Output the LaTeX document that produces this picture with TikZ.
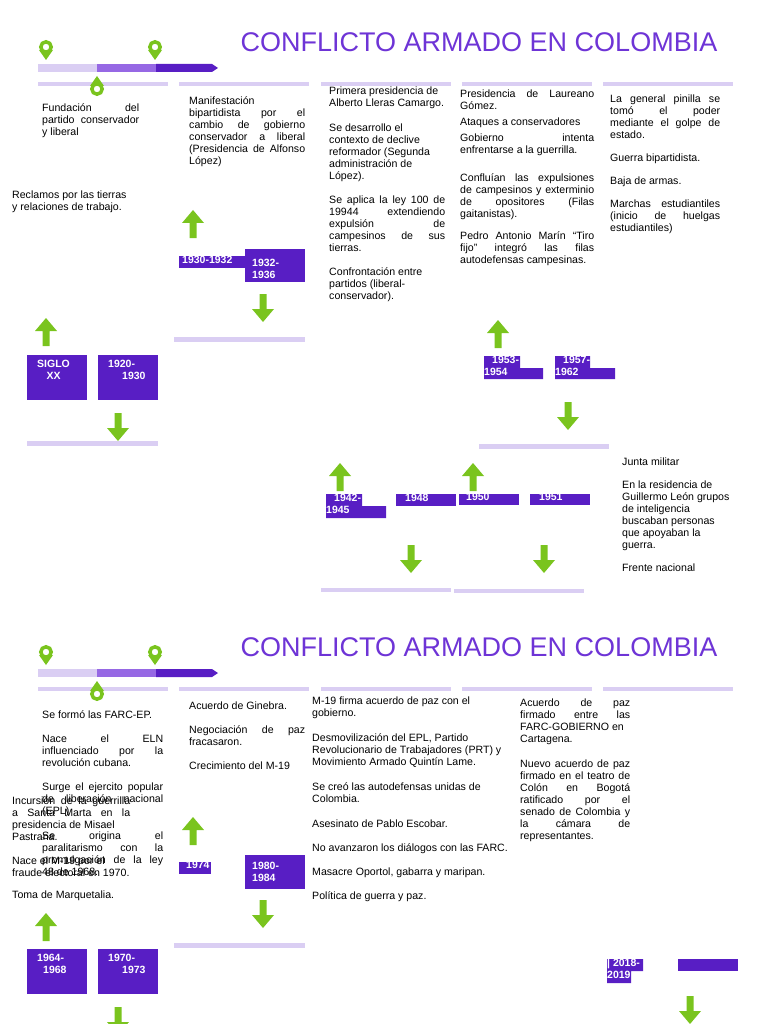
\documentclass[tikz,border=0pt]{standalone}
\usepackage{fontspec}
\setmainfont{Liberation Sans}
\definecolor{titleviolet}{RGB}{110, 52, 214}
\definecolor{deeppurple}{RGB}{88, 30, 196}
\definecolor{midpurple}{RGB}{150, 104, 228}
\definecolor{lavender}{RGB}{218, 206, 243}
\definecolor{leafgreen}{RGB}{122, 196, 30}
\usetikzlibrary{positioning}
\newcommand{\nohyph}{\hyphenpenalty=10000\exhyphenpenalty=10000\tolerance=9999\emergencystretch=20pt}

\begin{document}
\begin{tikzpicture}[x=1pt, y=-1pt,
    body/.style={anchor=north west, inner sep=0pt, font=\fontsize{10.6}{12}\selectfont\nohyph, align=justify},
    plain/.style={anchor=north west, inner sep=0pt, font=\fontsize{10.6}{12}\selectfont\nohyph, align=left},
    title/.style={font=\fontsize{27}{30}\selectfont, text=titleviolet, inner sep=0pt},
    year/.style={anchor=north west, inner sep=1pt, font=\fontsize{10.5}{12}\bfseries\selectfont, text=white, align=left},
    yearbox/.style={fill=deeppurple},
    divider/.style={fill=lavender},
    uparr/.pic={\fill[leafgreen] (0,0) -- (11,13) -- (3.5,13) -- (3.5,28) -- (-3.5,28) -- (-3.5,13) -- (-11,13) -- cycle;},
    downarr/.pic={\fill[leafgreen] (0,28) -- (11,15) -- (3.5,15) -- (3.5,0) -- (-3.5,0) -- (-3.5,15) -- (-11,15) -- cycle;},
    pindown/.pic={\fill[leafgreen] (-7,3) -- (0,13) -- (7,3) -- cycle; \draw[leafgreen, fill=white, line width=3.5pt] (0,0) circle (5.2);},
    pinup/.pic={\fill[leafgreen] (-7,-3) -- (0,-13) -- (7,-3) -- cycle; \draw[leafgreen, fill=white, line width=3.5pt] (0,0) circle (5.2);}
]
    \useasboundingbox (0,0) rectangle (768,1024);

    % Two timeline panels
    \foreach \dy in {0, 605} {
        \begin{scope}[yshift=-\dy]
        \fill[lavender] (38,64) rectangle (97,72);
        \fill[midpurple] (97,64) rectangle (156,72);
        \fill[deeppurple] (156,64) -- (212,64) -- (218,68) -- (212,72) -- (156,72) -- cycle;
        \foreach \x in {38, 179, 321, 462, 603}
            \fill[divider] (\x,82) rectangle (\x+130,86);
        \pic at (46,47) {pindown};
        \pic at (155,47) {pindown};
        \pic at (97,89) {pinup};
        \end{scope}
    }
    \node[title] (t1) at (479,42) {CONFLICTO ARMADO EN COLOMBIA};
    \node[title] (t2) at (479,647) {CONFLICTO ARMADO EN COLOMBIA};

    % Upper panel texts
    \node[body, text width=97] (a1) at (42,103) {Fundación del\linebreak partido conservador\linebreak y liberal};
    \node[plain] (a2) at (12,191) {Reclamos por las tierras\\y relaciones de trabajo.};
    \node[body, text width=116] (a3) at (189,96) {Manifestación\\bipartidista por el\linebreak cambio de gobierno\linebreak conservador a liberal\linebreak (Presidencia de Alfonso\linebreak López)};
    \node[body, text width=116] (a4) at (329,87) {Primera presidencia de\\Alberto Lleras Camargo.\\[13pt]
        Se desarrollo el\\contexto de declive\\reformador (Segunda\\administración de\\López).\\[12pt]
        Se aplica la ley 100 de\linebreak 19944 extendiendo\linebreak expulsión de\linebreak campesinos de sus\linebreak tierras.\\[12pt]
        Confrontación entre\\partidos (liberal-\\conservador).};
    \node[body, text width=134] (a5) at (460,90) {Presidencia de Laureano\linebreak Gómez.\\[4pt]
        Ataques a conservadores\\[4pt]
        Gobierno intenta\linebreak enfrentarse a la guerrilla.\\[16pt]
        \ Confluían las expulsiones\linebreak de campesinos y exterminio\linebreak de opositores (Filas\linebreak gaitanistas).\\[10pt]
        Pedro Antonio Marín “Tiro\linebreak fijo” integró las filas\linebreak autodefensas campesinas.};
    \node[body, text width=110] (a6) at (610,95) {La general pinilla se\linebreak tomó el poder\linebreak mediante el golpe de\linebreak estado.\\[11pt]
        Guerra bipartidista.\\[11pt]
        Baja de armas.\\[11pt]
        Marchas estudiantiles\linebreak (inicio de huelgas\linebreak estudiantiles)};
    \node[plain] (a7) at (622,458) {Junta militar\\[11pt]
        En la residencia de\\Guillermo León grupos\\de inteligencia\\buscaban personas\\que apoyaban la\\guerra.\\[11pt]
        Frente nacional};

    % Upper panel year boxes
    \fill[yearbox] (27,355) rectangle (87,400);
    \node[year, align=center] (b1) at (36,359) {SIGLO\\XX};
    \fill[yearbox] (98,355) rectangle (158,400);
    \node[year] (b2) at (107,359) {1920-\\\hspace*{14pt}1930};
    \fill[yearbox] (179,256) rectangle (245,268);
    \node[year] (b3) at (181,255) {1930-1932};
    \fill[yearbox] (245,249) rectangle (305,282);
    \node[year] (b4) at (251,258) {1932-\\1936};
    \fill[yearbox] (484,356) rectangle (520,368) (484,368) rectangle (543,379);
    \node[year, inner sep=0pt] (b5) at (484,356) {\hspace*{8pt}1953-\\1954};
    \fill[yearbox] (555,356) rectangle (590,368) (555,368) rectangle (615,379);
    \node[year, inner sep=0pt] (b6) at (555,356) {\hspace*{8pt}1957-\\1962};
    \fill[yearbox] (326,494) rectangle (362,506) (326,506) rectangle (386,518);
    \node[year, inner sep=0pt] (b7) at (326,494) {\hspace*{8pt}1942-\\1945};
    \fill[yearbox] (396,494) rectangle (456,506);
    \node[year, inner sep=0pt] (b8) at (405,494) {1948};
    \fill[yearbox] (459,494) rectangle (519,505);
    \node[year, inner sep=0pt] (b9) at (466,493) {1950};
    \fill[yearbox] (530,494) rectangle (590,505);
    \node[year, inner sep=0pt] (b10) at (539,493) {1951};

    % Upper panel arrows and rules
    \pic at (46,318) {uparr};
    \pic at (118,413) {downarr};
    \pic at (193,210) {uparr};
    \pic at (263,294) {downarr};
    \pic at (498,320) {uparr};
    \pic at (568,402) {downarr};
    \pic at (340,463) {uparr};
    \pic at (473,463) {uparr};
    \pic at (411,545) {downarr};
    \pic at (544,545) {downarr};
    \fill[divider] (27,441) rectangle (158,446);
    \fill[divider] (174,337) rectangle (305,342);
    \fill[divider] (479,444) rectangle (609,449);
    \fill[divider] (321,588) rectangle (451,592);
    \fill[divider] (454,589) rectangle (584,593);

    % Lower panel texts
    \node[body, text width=121] (c1) at (42,710) {Se formó las FARC-EP.\\[12pt]
        Nace el ELN\linebreak influenciado por la\linebreak revolución cubana.\\[12pt]
        Surge el ejercito popular\linebreak de liberación nacional\linebreak (EPL)\\[13pt]
        Se origina el\linebreak paralitarismo con la\linebreak promulgación de la ley\linebreak 48 de 1968.};
    \node[body, text width=118] (c2) at (12,796) {Incursión de la guerrilla\linebreak a Santa Marta en la\linebreak presidencia de Misael\\Pastrana.\\[12pt]
        Nace el M-19 por el\\fraude electoral en 1970.\\[10pt]
        Toma de Marquetalia.};
    \node[body, text width=116] (c3) at (189,702) {Acuerdo de Ginebra.\\[12pt]
        Negociación de paz\linebreak fracasaron.\\[12pt]
        Crecimiento del M-19};
    \node[plain] (c4) at (312,697) {M-19 firma acuerdo de paz con el\\gobierno.\\[13pt]
        Desmovilización del EPL, Partido\\Revolucionario de Trabajadores (PRT) y\\Movimiento Armado Quintín Lame.\\[13pt]
        Se creó las autodefensas unidas de\\Colombia.\\[13pt]
        Asesinato de Pablo Escobar.\\[12pt]
        No avanzaron los diálogos con las FARC.\\[12pt]
        Masacre Oportol, gabarra y maripan.\\[12pt]
        Política de guerra y paz.};
    \node[body, text width=110] (c5) at (520,699) {Acuerdo de paz\linebreak firmado entre las\linebreak FARC-GOBIERNO en\\Cartagena.\\[13pt]
        Nuevo acuerdo de paz\linebreak firmado en el teatro de\linebreak Colón en Bogotá\linebreak ratificado por el\linebreak senado de Colombia y\linebreak la cámara de\linebreak representantes.};

    % Lower panel year boxes
    \fill[yearbox] (27,949) rectangle (87,994);
    \node[year] (d1) at (36,953) {1964-\\\hspace*{6pt}1968};
    \fill[yearbox] (98,949) rectangle (158,994);
    \node[year] (d2) at (107,953) {1970-\\\hspace*{14pt}1973};
    \fill[yearbox] (179,862) rectangle (211,874);
    \node[year, inner sep=0pt] (d3) at (186,861) {1974};
    \fill[yearbox] (245,855) rectangle (305,889);
    \node[year] (d4) at (251,861) {1980-\\1984};
    \fill[yearbox] (607,959) rectangle (643,971) (607,971) rectangle (631,983);
    \node[year, inner sep=0pt] (d5) at (607,959) {| 2018-\\2019};
    \fill[yearbox] (678,959) rectangle (738,971);

    % Lower panel arrows and rules
    \pic at (46,913) {uparr};
    \pic at (118,1007) {downarr};
    \pic at (193,817) {uparr};
    \pic at (263,900) {downarr};
    \pic at (690,996) {downarr};
    \fill[divider] (174,943) rectangle (305,948);
\end{tikzpicture}
\end{document}
